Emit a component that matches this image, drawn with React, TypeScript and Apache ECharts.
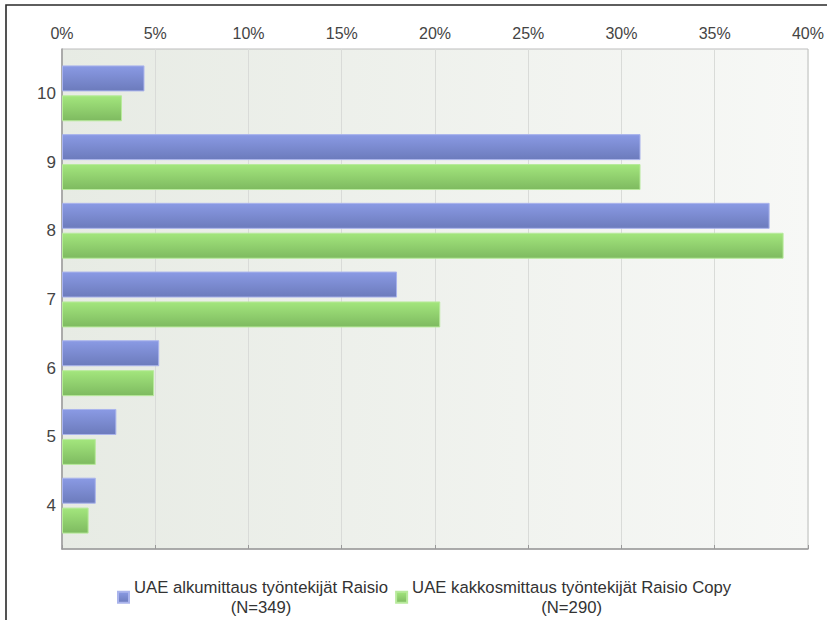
import React, { useEffect, useRef } from 'react';
import * as echarts from 'echarts';

const categories = ['10', '9', '8', '7', '6', '5', '4'];
const seriesNames = [
  'UAE alkumittaus työntekijät Raisio',
  'UAE kakkosmittaus työntekijät Raisio Copy',
];
const seriesCounts = ['(N=349)', '(N=290)'];
const alkumittaus = [4.37, 30.65, 37.49, 17.75, 5.15, 2.88, 1.79];
const kakkosmittaus = [3.18, 30.65, 38.23, 20.04, 4.88, 1.79, 1.41];
const xMin = 0;
const xMax = 40;
const xInterval = 5;

const FONT = '"Liberation Sans", Arial, sans-serif';

const blueGrad = new echarts.graphic.LinearGradient(0, 0, 0, 1, [
  { offset: 0, color: '#8a9ae4' },
  { offset: 1, color: '#6c7bbc' },
]);
const greenGrad = new echarts.graphic.LinearGradient(0, 0, 0, 1, [
  { offset: 0, color: '#a3e67d' },
  { offset: 1, color: '#7eba60' },
]);

export default function App() {
  const ref = useRef<HTMLDivElement>(null);
  useEffect(() => {
    document.body.style.margin = '0';
    const chart = echarts.init(ref.current!, null, { renderer: 'svg' });
    const option: any = {
      animation: false,
      backgroundColor: '#ffffff',
      textStyle: { fontFamily: FONT },
      graphic: [
        {
          type: 'rect',
          shape: { x: 6, y: 5, width: 1000, height: 1000 },
          style: { fill: 'none', stroke: '#2a2a2a', lineWidth: 1.6 },
          silent: true,
          z: -10,
        },
      ],
      grid: [
        {
          left: 62,
          top: 49,
          right: 10,
          bottom: 71,
          show: true,
          backgroundColor: new echarts.graphic.LinearGradient(0, 0, 1, 0, [
            { offset: 0, color: '#e7ebe4' },
            { offset: 1, color: '#f7f8f6' },
          ]),
          borderColor: '#bdbdbd',
          borderWidth: 1,
        },
        { left: 62, top: 59, right: 10, bottom: 80 },
      ],
      xAxis: [
        {
          gridIndex: 0,
          type: 'value',
          position: 'top',
          min: xMin,
          max: xMax,
          interval: xInterval,
          axisLine: { show: true, lineStyle: { color: '#9a9a9a', width: 1.5 } },
          axisTick: { show: true, length: 4, lineStyle: { color: '#9a9a9a' } },
          axisLabel: {
            formatter: '{value}%',
            color: '#444',
            fontSize: 16,
            fontFamily: FONT,
            margin: 8,
          },
          splitLine: { show: true, lineStyle: { color: '#d9dbd8' } },
        },
        {
          gridIndex: 1,
          type: 'value',
          min: xMin,
          max: xMax,
          show: false,
        },
      ],
      yAxis: [
        {
          gridIndex: 0,
          type: 'value',
          min: 0,
          max: 1,
          axisLine: { show: true, lineStyle: { color: '#9a9a9a', width: 1.5 } },
          axisTick: { show: false },
          axisLabel: { show: false },
          splitLine: { show: false },
        },
        {
          gridIndex: 1,
          type: 'category',
          data: categories,
          inverse: true,
          axisLine: { show: false },
          axisTick: { show: false },
          axisLabel: { color: '#444', fontSize: 17, fontFamily: FONT, margin: 6 },
        },
      ],
      legend: {
        left: 112,
        top: 574,
        itemWidth: 11,
        itemHeight: 11,
        itemGap: 7,
        icon: 'rect',
        data: seriesNames,
        formatter: (name: string) => {
          const i = seriesNames.indexOf(name);
          return `{a|${name}}\n{a|${seriesCounts[i]}}`;
        },
        textStyle: {
          color: '#333',
          fontFamily: FONT,
          fontSize: 16.7,
          rich: {
            a: { align: 'center', fontSize: 16.7, lineHeight: 19.5, color: '#333', fontFamily: FONT },
          },
        },
      },
      series: [
        {
          name: seriesNames[0],
          type: 'bar',
          xAxisIndex: 1,
          yAxisIndex: 1,
          data: alkumittaus,
          barWidth: 26,
          barGap: '15%',
          itemStyle: { color: blueGrad, borderColor: '#aab4ec', borderWidth: 1 },
        },
        {
          name: seriesNames[1],
          type: 'bar',
          xAxisIndex: 1,
          yAxisIndex: 1,
          data: kakkosmittaus,
          barWidth: 26,
          barGap: '15%',
          itemStyle: { color: greenGrad, borderColor: '#b8ea9c', borderWidth: 1 },
        },
      ],
    };
    chart.setOption(option);
    return () => chart.dispose();
  }, []);
  return <div ref={ref} style={{ width: 827, height: 620 }} />;
}
